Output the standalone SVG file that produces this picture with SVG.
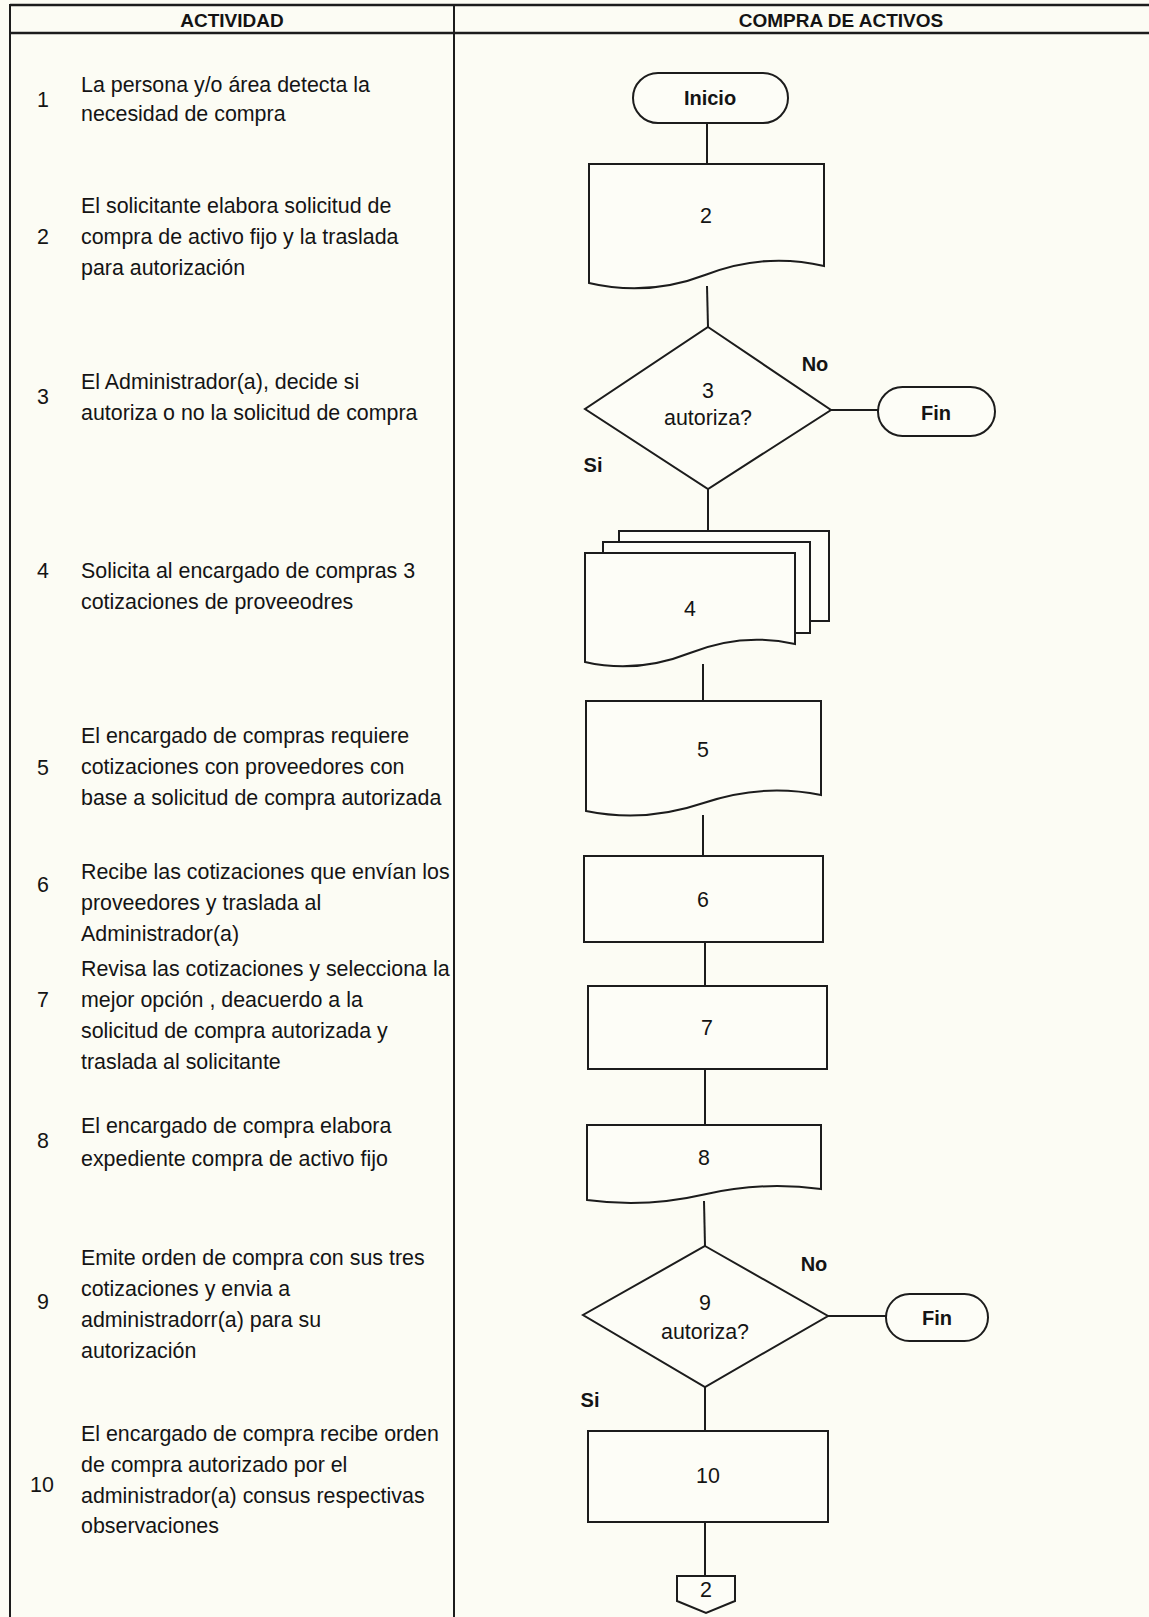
<svg xmlns="http://www.w3.org/2000/svg" width="1149" height="1617" viewBox="0 0 1149 1617">
  <style>
    .grid { stroke: #1c1c1c; stroke-width: 2; fill: none; }
    .grid-thick { stroke: #1c1c1c; stroke-width: 2.6; fill: none; }
    .shape { stroke: #1c1c1c; stroke-width: 2; fill: #fdfdf7; }
    .conn { stroke: #1c1c1c; stroke-width: 2; fill: none; }
    text { font-family: "Liberation Sans", Arial, sans-serif; fill: #141414; dominant-baseline: central; }
    .hdr { font-size: 19px; font-weight: bold; text-anchor: middle; }
    .num { font-size: 21.4px; text-anchor: middle; }
    .desc { font-size: 21.4px; text-anchor: start; }
    .lbl { font-size: 21.4px; text-anchor: middle; }
    .bold { font-size: 20px; font-weight: bold; text-anchor: middle; }
  </style>

  <rect width="1149" height="1617" fill="#fcfcf4"/>

  <!-- table frame -->
  <g id="table">
    <line class="grid-thick" x1="10" y1="5" x2="1149" y2="5"/>
    <line class="grid-thick" x1="10" y1="33" x2="1149" y2="33"/>
    <line class="grid" x1="10" y1="4" x2="10" y2="1617"/>
    <line class="grid" x1="454" y1="4" x2="454" y2="1617"/>
    <text class="hdr" x="232" y="20">ACTIVIDAD</text>
    <text class="hdr" x="841" y="20">COMPRA DE ACTIVOS</text>
  </g>

  <!-- activity descriptions -->
  <g id="activities">
    <g id="act-1">
      <text class="num" x="43" y="100">1</text>
      <text class="desc" x="81" y="85">La persona y/o área detecta la</text>
      <text class="desc" x="81" y="114">necesidad de compra</text>
    </g>
    <g id="act-2">
      <text class="num" x="43" y="237">2</text>
      <text class="desc" x="81" y="206">El solicitante elabora solicitud de</text>
      <text class="desc" x="81" y="237">compra de activo fijo y la traslada</text>
      <text class="desc" x="81" y="268">para autorización</text>
    </g>
    <g id="act-3">
      <text class="num" x="43" y="397">3</text>
      <text class="desc" x="81" y="382">El Administrador(a), decide si</text>
      <text class="desc" x="81" y="413">autoriza o no la solicitud de compra</text>
    </g>
    <g id="act-4">
      <text class="num" x="43" y="571">4</text>
      <text class="desc" x="81" y="571">Solicita al encargado de compras 3</text>
      <text class="desc" x="81" y="602">cotizaciones de proveeodres</text>
    </g>
    <g id="act-5">
      <text class="num" x="43" y="768">5</text>
      <text class="desc" x="81" y="736">El encargado de compras requiere</text>
      <text class="desc" x="81" y="767">cotizaciones con proveedores con</text>
      <text class="desc" x="81" y="798">base a solicitud de compra autorizada</text>
    </g>
    <g id="act-6">
      <text class="num" x="43" y="885">6</text>
      <text class="desc" x="81" y="872">Recibe las cotizaciones que envían los</text>
      <text class="desc" x="81" y="903">proveedores y traslada al</text>
      <text class="desc" x="81" y="934">Administrador(a)</text>
    </g>
    <g id="act-7">
      <text class="num" x="43" y="1000">7</text>
      <text class="desc" x="81" y="969">Revisa las cotizaciones y selecciona la</text>
      <text class="desc" x="81" y="1000">mejor opción , deacuerdo a la</text>
      <text class="desc" x="81" y="1031">solicitud de compra autorizada y</text>
      <text class="desc" x="81" y="1062">traslada al solicitante</text>
    </g>
    <g id="act-8">
      <text class="num" x="43" y="1141">8</text>
      <text class="desc" x="81" y="1126">El encargado de compra elabora</text>
      <text class="desc" x="81" y="1159">expediente compra de activo fijo</text>
    </g>
    <g id="act-9">
      <text class="num" x="43" y="1302">9</text>
      <text class="desc" x="81" y="1258">Emite orden de compra con sus tres</text>
      <text class="desc" x="81" y="1289">cotizaciones y envia a</text>
      <text class="desc" x="81" y="1320">administradorr(a) para su</text>
      <text class="desc" x="81" y="1351">autorización</text>
    </g>
    <g id="act-10">
      <text class="num" x="42" y="1485">10</text>
      <text class="desc" x="81" y="1434">El encargado de compra recibe orden</text>
      <text class="desc" x="81" y="1465">de compra autorizado por el</text>
      <text class="desc" x="81" y="1496">administrador(a) consus respectivas</text>
      <text class="desc" x="81" y="1526">observaciones</text>
    </g>
  </g>

  <!-- connectors -->
  <g id="connectors">
    <line class="conn" x1="707" y1="123" x2="707" y2="164"/>
    <line class="conn" x1="707" y1="286" x2="708" y2="327"/>
    <line class="conn" x1="831" y1="410" x2="878" y2="410"/>
    <line class="conn" x1="708" y1="489" x2="708" y2="531"/>
    <line class="conn" x1="703" y1="664" x2="703" y2="701"/>
    <line class="conn" x1="703" y1="815" x2="703" y2="856"/>
    <line class="conn" x1="705" y1="942" x2="705" y2="986"/>
    <line class="conn" x1="705" y1="1069" x2="705" y2="1125"/>
    <line class="conn" x1="704" y1="1201" x2="705" y2="1246"/>
    <line class="conn" x1="828" y1="1316" x2="886" y2="1316"/>
    <line class="conn" x1="705" y1="1387" x2="705" y2="1431"/>
    <line class="conn" x1="705" y1="1522" x2="705" y2="1576"/>
  </g>

  <!-- flowchart nodes -->
  <g id="inicio">
    <rect class="shape" x="633" y="73" width="155" height="50" rx="25"/>
    <text class="bold" x="710" y="98">Inicio</text>
  </g>

  <g id="doc-2">
    <path class="shape" d="M589,164 H824 V266 Q765,252 706.5,274.5 Q648,297 589,283 Z"/>
    <text class="lbl" x="706" y="216">2</text>
  </g>

  <g id="decision-3">
    <polygon class="shape" points="708,327 831,410 708,489 585,409"/>
    <text class="lbl" x="708" y="391">3</text>
    <text class="lbl" x="708" y="418">autoriza?</text>
    <text class="bold" x="815" y="364">No</text>
    <text class="bold" x="593" y="465">Si</text>
  </g>

  <g id="fin-3">
    <rect class="shape" x="878" y="387" width="117" height="49" rx="24.5"/>
    <text class="bold" x="936" y="413">Fin</text>
  </g>

  <g id="docs-4">
    <rect class="shape" x="619" y="531" width="210" height="90"/>
    <rect class="shape" x="603" y="542" width="207" height="91"/>
    <path class="shape" d="M585,553 H795 V644 Q742,632 690,653 Q637,674 585,662 Z"/>
    <text class="lbl" x="690" y="609">4</text>
  </g>

  <g id="doc-5">
    <path class="shape" d="M586,701 H821 V795 Q762,783 703.5,803 Q645,823 586,811 Z"/>
    <text class="lbl" x="703" y="750">5</text>
  </g>

  <g id="proc-6">
    <rect class="shape" x="584" y="856" width="239" height="86"/>
    <text class="lbl" x="703" y="900">6</text>
  </g>

  <g id="proc-7">
    <rect class="shape" x="588" y="986" width="239" height="83"/>
    <text class="lbl" x="707" y="1028">7</text>
  </g>

  <g id="doc-8">
    <path class="shape" d="M587,1125 H821 V1189 Q762,1181 704,1194.5 Q646,1208 587,1200 Z"/>
    <text class="lbl" x="704" y="1158">8</text>
  </g>

  <g id="decision-9">
    <polygon class="shape" points="705,1246 828,1316 705,1387 583,1315"/>
    <text class="lbl" x="705" y="1303">9</text>
    <text class="lbl" x="705" y="1332">autoriza?</text>
    <text class="bold" x="814" y="1264">No</text>
    <text class="bold" x="590" y="1400">Si</text>
  </g>

  <g id="fin-9">
    <rect class="shape" x="886" y="1294" width="102" height="47" rx="23.5"/>
    <text class="bold" x="937" y="1318">Fin</text>
  </g>

  <g id="proc-10">
    <rect class="shape" x="588" y="1431" width="240" height="91"/>
    <text class="lbl" x="708" y="1476">10</text>
  </g>

  <g id="offpage-2">
    <polygon class="shape" points="677,1576 735,1576 735,1601 706,1613 677,1601"/>
    <text class="lbl" x="706" y="1590">2</text>
  </g>
</svg>
